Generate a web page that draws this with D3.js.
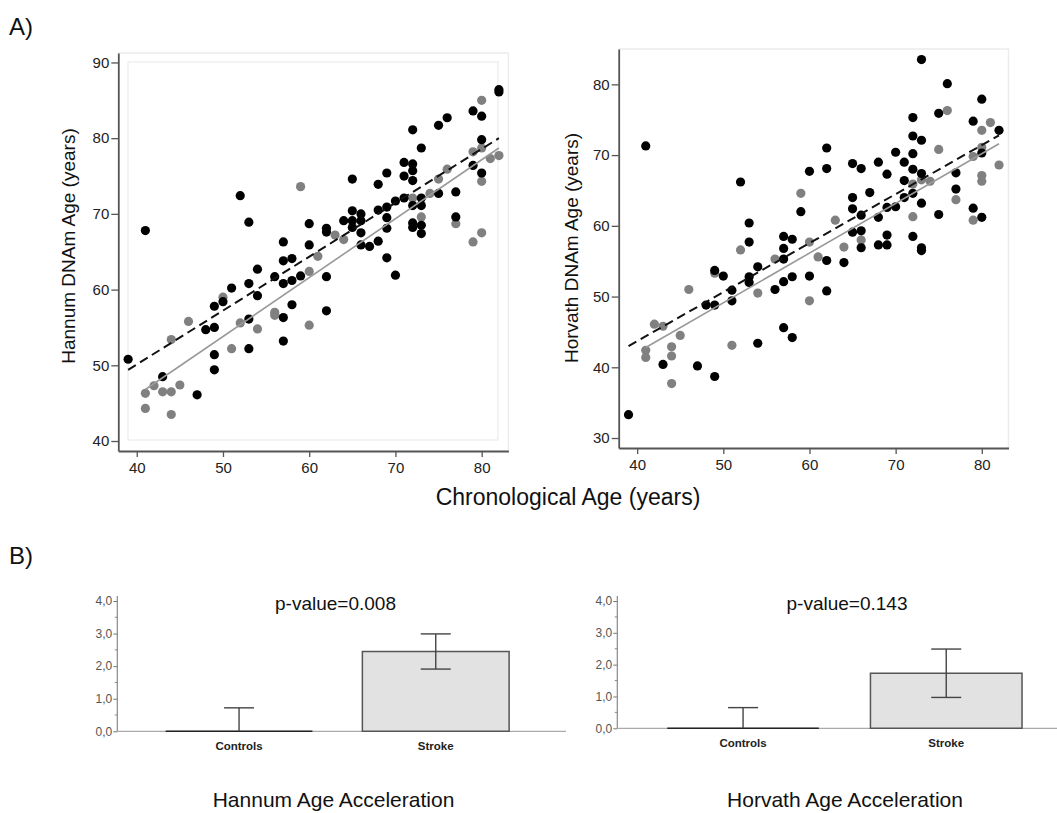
<!DOCTYPE html>
<html><head><meta charset="utf-8">
<script src="https://cdn.jsdelivr.net/npm/d3@7"></script>
<style>body{margin:0;background:#fff;} text{font-family:"Liberation Sans",Arial,sans-serif;}</style>
</head><body>
<script>
// ---------- DATA ----------
const ageTicks = [40,50,60,70,80];
const hannumTicks = [40,50,60,70,80,90];
const horvathTicks = [30,40,50,60,70,80];
const barTicks = [0,1,2,3,4];
const barMinorTicks = [0.5,1.5,2.5,3.5];

// Hannum: [chronological age, DNAm age]
const hannumStroke = [[39,50.8],[41,67.8],[43,48.5],[47,46.1],[48,54.7],[49,57.8],[49,55.0],[49,51.4],[49,49.4],[50,58.4],[51,60.2],[52,72.4],[53,68.9],[53,60.8],[53,56.1],[53,52.2],[54,62.7],[54,59.2],[56,61.7],[57,66.3],[57,63.8],[57,60.8],[57,56.3],[57,53.2],[58,64.1],[58,61.2],[58,58.0],[59,61.8],[60,68.7],[60,65.9],[62,68.1],[62,67.6],[62,61.7],[62,57.2],[64,69.1],[65,74.6],[65,70.4],[65,69.1],[65,68.2],[66,70.0],[66,69.1],[66,67.5],[66,65.9],[67,65.7],[68,73.9],[68,70.5],[68,66.4],[69,75.4],[69,70.9],[69,69.5],[69,68.1],[69,64.2],[70,71.7],[70,61.9],[71,76.8],[71,75.0],[71,72.1],[72,81.1],[72,76.6],[72,75.7],[72,74.4],[72,71.1],[72,68.8],[72,68.2],[73,78.7],[73,72.1],[73,71.1],[73,68.5],[73,67.4],[75,81.7],[75,72.7],[76,82.7],[77,72.9],[77,69.6],[79,83.6],[79,76.4],[80,82.9],[80,79.8],[80,75.4],[82,86.4],[82,86.1]];
const hannumControls = [[41,46.3],[41,44.3],[42,47.3],[43,46.5],[44,46.5],[44,53.4],[44,43.5],[45,47.4],[46,55.8],[50,59.0],[51,52.2],[52,55.6],[54,54.8],[56,57.0],[56,56.6],[59,73.6],[60,62.4],[60,55.3],[61,64.4],[63,67.2],[64,66.6],[72,72.1],[73,69.6],[74,72.7],[75,74.6],[76,75.9],[77,68.7],[79,78.2],[79,66.3],[80,85.0],[80,78.7],[80,74.3],[80,67.5],[81,77.3],[82,77.7]];
const hannumFitStroke = [[39,49.4],[82,80.0]];
const hannumFitControls = [[41,46.8],[82,78.7]];

// Horvath: [chronological age, DNAm age]
const horvathStroke = [[39,33.3],[41,71.3],[43,40.4],[47,40.2],[48,48.8],[49,53.7],[49,48.8],[49,38.7],[50,52.9],[51,50.9],[51,49.4],[52,66.2],[53,60.4],[53,57.7],[53,52.8],[53,52.0],[54,54.2],[54,43.4],[56,51.0],[57,58.5],[57,56.8],[57,55.3],[57,52.1],[57,45.6],[58,58.1],[58,52.8],[58,44.2],[59,62.0],[60,67.7],[60,52.9],[62,71.0],[62,68.1],[62,55.1],[62,50.8],[64,54.8],[65,68.8],[65,64.0],[65,62.4],[65,59.1],[66,68.1],[66,61.5],[66,59.3],[66,56.9],[67,64.7],[68,69.0],[68,61.2],[68,57.3],[69,67.3],[69,62.6],[69,58.7],[69,57.3],[70,70.4],[70,62.7],[71,69.0],[71,66.4],[71,64.0],[72,75.3],[72,72.7],[72,70.2],[72,68.0],[72,64.6],[72,58.5],[73,83.5],[73,72.1],[73,67.4],[73,63.2],[73,56.9],[73,56.5],[75,75.9],[75,61.6],[76,80.1],[77,67.5],[77,65.2],[79,74.8],[79,62.5],[80,77.9],[80,70.3],[80,61.2],[82,73.5]];
const horvathControls = [[41,42.4],[41,41.4],[42,46.1],[43,45.8],[44,42.9],[44,41.6],[44,37.7],[45,44.5],[46,51.0],[49,53.3],[51,43.1],[52,56.6],[54,50.5],[56,55.3],[59,64.6],[60,57.7],[60,49.4],[61,55.6],[63,60.8],[64,57.0],[66,58.0],[72,65.9],[72,61.3],[73,66.5],[74,66.3],[75,70.8],[76,76.3],[77,63.7],[79,69.8],[79,60.8],[80,73.5],[80,71.1],[80,67.1],[80,66.3],[81,74.6],[82,68.6]];
const horvathFitStroke = [[39,43.0],[82,72.8]];
const horvathFitControls = [[41,42.8],[82,71.6]];

// Age acceleration bars
const groups = ["Controls","Stroke"];
const hannumMean = [0, 2.45];
const hannumLow = [0, 1.91];
const hannumHigh = [0.72, 2.99];
const horvathMean = [0, 1.73];
const horvathLow = [0, 0.97];
const horvathHigh = [0.65, 2.49];

// ---------- DRAW ----------
const W = 1057, H = 813;
const svg = d3.select("body").append("svg").attr("width", W).attr("height", H);

function scatter(o) {
  const x = d3.scaleLinear().domain([37.86, 83.1]).range(o.xRange);
  const y = d3.scaleLinear().domain(o.yDomain).range(o.yRange);
  const g = svg.append("g");
  g.append("path")
    .attr("d", `M${o.xRange[0]},${o.yRange[1]}H${o.xRange[1]}V${o.yRange[0]}`)
    .attr("fill", "none").attr("stroke", "#ececec").attr("stroke-width", 1.5);
  if (o.inner) {
    g.append("rect").attr("x", o.inner[0]).attr("y", o.inner[1])
      .attr("width", o.inner[2]).attr("height", o.inner[3])
      .attr("fill", "none").attr("stroke", "#efefef").attr("stroke-width", 1.5);
  }
  const ax = g.append("g").attr("transform", `translate(0,${o.yRange[0]})`)
    .call(d3.axisBottom(x).tickValues(ageTicks).tickSize(6).tickSizeOuter(0).tickPadding(5));
  const ay = g.append("g").attr("transform", `translate(${o.xRange[0]},0)`)
    .call(d3.axisLeft(y).tickValues(o.yTicks).tickSize(7).tickSizeOuter(0).tickPadding(2));
  [ax, ay].forEach(a => {
    a.select(".domain").attr("stroke", "#555").attr("stroke-width", 1.8);
    a.selectAll(".tick line").attr("stroke", "#555").attr("stroke-width", 1.3);
    a.selectAll(".tick text").attr("fill", "#222").style("font-size", "15px")
      .style("font-family", '"Liberation Sans",Arial,sans-serif');
  });
  g.append("g").selectAll("circle").data(o.controls).join("circle")
    .attr("cx", d => x(d[0])).attr("cy", d => y(d[1])).attr("r", 4.6)
    .attr("fill", "#808080");
  g.append("g").selectAll("circle").data(o.stroke).join("circle")
    .attr("cx", d => x(d[0])).attr("cy", d => y(d[1])).attr("r", 4.6)
    .attr("fill", "#000");
  const line = d3.line().x(d => x(d[0])).y(d => y(d[1]));
  g.append("path").attr("d", line(o.fitC)).attr("fill", "none")
    .attr("stroke", "#999").attr("stroke-width", 1.6);
  g.append("path").attr("d", line(o.fitS)).attr("fill", "none")
    .attr("stroke", "#111").attr("stroke-width", 2).attr("stroke-dasharray", "9,5");
  g.append("text").attr("transform", `translate(${o.titleX},${o.titleY}) rotate(-90)`)
    .attr("text-anchor", "middle").attr("fill", "#111").style("font-size", "19px")
    .text(o.title);
}

scatter({
  xRange: [118.3, 508.4], yDomain: [38.68, 91.25], yRange: [451, 53], yTicks: hannumTicks,
  inner: [128, 62, 370, 378],
  stroke: hannumStroke, controls: hannumControls, fitS: hannumFitStroke, fitC: hannumFitControls,
  title: "Hannum DNAm Age (years)", titleX: 75, titleY: 246
});
scatter({
  xRange: [618.7, 1008.5], yDomain: [28.59, 85], yRange: [448, 49], yTicks: horvathTicks,
  inner: null,
  stroke: horvathStroke, controls: horvathControls, fitS: horvathFitStroke, fitC: horvathFitControls,
  title: "Horvath DNAm Age (years)", titleX: 578, titleY: 248
});

svg.append("text").attr("x", 568).attr("y", 505).attr("text-anchor", "middle")
  .attr("fill", "#111").style("font-size", "23px").text("Chronological Age (years)");
svg.append("text").attr("x", 9).attr("y", 35).attr("fill", "#111").style("font-size", "24px").text("A)");
svg.append("text").attr("x", 9).attr("y", 564).attr("fill", "#111").style("font-size", "24px").text("B)");

function bars(o) {
  const x = d3.scaleBand().domain(groups).range(o.xRange).paddingInner(0.254).paddingOuter(0.246);
  const y = d3.scaleLinear().domain([0, 4]).range(o.yRange);
  const g = svg.append("g");
  const fmt = d => d.toFixed(1).replace(".", ",");
  g.append("line").attr("x1", o.xRange[0]).attr("x2", o.baseEnd)
    .attr("y1", y(0)).attr("y2", y(0)).attr("stroke", "#aaa").attr("stroke-width", 1.3);
  const ay = g.append("g").attr("transform", `translate(${o.xRange[0]},0)`)
    .call(d3.axisLeft(y).tickValues(barTicks).tickFormat(fmt).tickSize(4).tickSizeOuter(0).tickPadding(1));
  ay.select(".domain").remove();
  g.append("line").attr("x1", o.xRange[0]).attr("x2", o.xRange[0])
    .attr("y1", y(0)).attr("y2", y(4) - 5).attr("stroke", "#888").attr("stroke-width", 1.2);
  ay.selectAll(".tick line").attr("stroke", "#777");
  ay.selectAll(".tick text").attr("fill", "#555").style("font-size", "12px")
    .style("font-family", '"Liberation Sans",Arial,sans-serif');
  g.append("g").selectAll("line").data(barMinorTicks).join("line")
    .attr("x1", o.xRange[0] - 2.5).attr("x2", o.xRange[0])
    .attr("y1", d => y(d)).attr("y2", d => y(d)).attr("stroke", "#888");
  g.append("g").selectAll("path").data(groups).join("path")
    .attr("d", (d, i) => {
      const x0 = x(d), x1 = x(d) + x.bandwidth(), y0 = y(0), y1 = y(o.mean[i]);
      return `M${x0},${y0}V${y1}H${x1}V${y0}Z`;
    })
    .attr("fill", "#e2e2e2").attr("stroke", (d, i) => o.mean[i] === 0 ? "#222" : "#555")
    .attr("stroke-width", 1.5);
  const eb = g.append("g").attr("stroke", "#444").attr("stroke-width", 1.4);
  groups.forEach((d, i) => {
    const cx = x(d) + x.bandwidth() / 2;
    eb.append("line").attr("x1", cx).attr("x2", cx).attr("y1", y(o.low[i])).attr("y2", y(o.high[i]));
    eb.append("line").attr("x1", cx - 15).attr("x2", cx + 15).attr("y1", y(o.high[i])).attr("y2", y(o.high[i]));
    if (o.low[i] > 0)
      eb.append("line").attr("x1", cx - 15).attr("x2", cx + 15).attr("y1", y(o.low[i])).attr("y2", y(o.low[i]));
  });
  g.append("g").selectAll("text").data(groups).join("text")
    .attr("x", d => x(d) + x.bandwidth() / 2).attr("y", y(0) + 19)
    .attr("text-anchor", "middle").attr("fill", "#222").style("font-size", "11.5px")
    .style("font-weight", "bold").text(d => d);
  g.append("text").attr("x", o.cx).attr("y", 610).attr("text-anchor", "middle")
    .attr("fill", "#111").style("font-size", "19px").text(o.pval);
  g.append("text").attr("x", o.cx - 2).attr("y", 807).attr("text-anchor", "middle")
    .attr("fill", "#111").style("font-size", "21px").text(o.title);
}

bars({ xRange: [117.3, 557.5], yRange: [731.3, 601], baseEnd: 566,
  mean: hannumMean, low: hannumLow, high: hannumHigh,
  pval: "p-value=0.008", title: "Hannum Age Acceleration", cx: 335.5 });
bars({ xRange: [617.3, 1072], yRange: [728.3, 601], baseEnd: 1057,
  mean: horvathMean, low: horvathLow, high: horvathHigh,
  pval: "p-value=0.143", title: "Horvath Age Acceleration", cx: 847 });
</script>
</body></html>
